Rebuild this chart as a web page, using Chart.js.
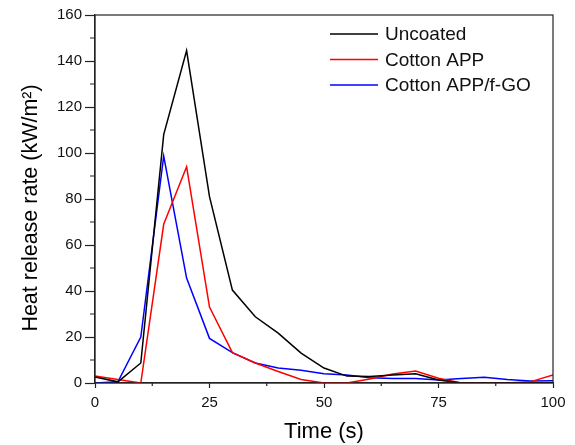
<!DOCTYPE html>
<html>
<head>
<meta charset="utf-8">
<script src="https://cdn.jsdelivr.net/npm/chart.js@4.4.1/dist/chart.umd.min.js"></script>
<style>
  body { margin: 0; background: #fff; }
  #wrap { width: 575px; height: 445px; position: relative; }
</style>
</head>
<body>
<div id="wrap"><canvas id="hrr"></canvas></div>
<script>
// time in seconds
var time = [0, 5, 10, 15, 20, 25, 30, 35, 40, 45, 50, 55, 60, 65, 70, 75, 80, 85, 90, 95, 100];
var uncoated   = [2.6, 0.5, 8.7, 108, 144.5, 81, 40.4, 28.8, 21.7, 13, 6.5, 3, 2.8, 3.5, 4, 1.3, 0, 0, 0, 0, 0];
var cottonApp  = [3, 1.5, 0, 69, 94, 33, 13.2, 8.7, 5, 1.5, 0, 0, 1.7, 3.9, 5.2, 2.1, 0, 0, 0, 0.5, 3.5];
var cottonAppGo = [0, 0.5, 20, 98.7, 45.6, 19.4, 13.2, 8.7, 6.5, 5.5, 4, 3.5, 2.3, 2, 2, 1.3, 2, 2.5, 1.5, 0.9, 1];
var xTicks = [0, 25, 50, 75, 100];
var yTicks = [0, 20, 40, 60, 80, 100, 120, 140, 160];

function pts(ys) {
    return time.map(function(t, i){ return {x: t, y: ys[i]}; });
}

// frame, minor ticks and the legend inside the plot
var extras = {
    id: 'extras',
    afterDraw: function(chart) {
        var c = chart.ctx, a = chart.chartArea;
        var xs = chart.scales.x, ys = chart.scales.y;
        c.save();
        c.strokeStyle = '#222';
        c.lineWidth = 1.2;
        c.strokeRect(a.left, a.top, a.right - a.left, a.bottom - a.top);
        c.beginPath();
        for (var v = 12.5; v < 100; v += 25) {
            var px = xs.getPixelForValue(v);
            c.moveTo(px, a.bottom); c.lineTo(px, a.bottom + 3);
        }
        for (var w = 10; w < 160; w += 20) {
            var py = ys.getPixelForValue(w);
            c.moveTo(a.left, py); c.lineTo(a.left - 5, py);
        }
        c.stroke();

        c.font = '19px "Liberation Sans", Arial, sans-serif';
        c.textBaseline = 'middle';
        c.fillStyle = '#111';
        chart.data.datasets.forEach(function(ds, i){
            var yy = 34 + i * 25.5;
            c.strokeStyle = ds.borderColor;
            c.lineWidth = 1.5;
            c.beginPath(); c.moveTo(330, yy); c.lineTo(378, yy); c.stroke();
            c.fillText(ds.label, 385, yy + 1);
        });
        c.restore();
    }
};

var ctx = document.getElementById("hrr").getContext('2d');
var myChart = new Chart(ctx, {
    type: 'line',
    data: {
        datasets: [{
            label: 'Uncoated',
            data: pts(uncoated),
            borderColor: '#000000',
            borderWidth: 1.5,
            pointRadius: 0,
            fill: false
        },
        {
            label: 'Cotton APP',
            data: pts(cottonApp),
            borderColor: '#ff0000',
            borderWidth: 1.5,
            pointRadius: 0,
            fill: false
        },
        {
            label: 'Cotton APP/f-GO',
            data: pts(cottonAppGo),
            borderColor: '#0000ff',
            borderWidth: 1.5,
            pointRadius: 0,
            fill: false
        }]
    },
    options: {
        responsive: true,
        maintainAspectRatio: false,
        animation: false,
        layout: { padding: { top: 15, right: 22, left: 18, bottom: 0 } },
        plugins: { legend: { display: false }, tooltip: { enabled: false } },
        scales: {
            x: {
                type: 'linear', min: 0, max: 100,
                afterBuildTicks: function(s){ s.ticks = xTicks.map(function(v){ return {value: v}; }); },
                afterFit: function(s){ s.height = 62; },
                grid: { drawOnChartArea: false, tickLength: 5, color: '#222', tickWidth: 1.2 },
                border: { color: '#222', width: 1.2 },
                ticks: { color: '#111', font: { size: 15, family: '"Liberation Sans", Arial' }, padding: 6, maxRotation: 0 },
                title: { display: true, text: 'Time (s)', color: '#000', font: { size: 22, family: '"Liberation Sans", Arial' }, padding: { top: 4, bottom: 0 } }
            },
            y: {
                min: 0, max: 160,
                afterBuildTicks: function(s){ s.ticks = yTicks.map(function(v){ return {value: v}; }); },
                afterFit: function(s){ s.width = 77; },
                grid: { drawOnChartArea: false, tickLength: 10, color: '#222', tickWidth: 1.2 },
                border: { color: '#222', width: 1.2 },
                ticks: { color: '#111', font: { size: 15, family: '"Liberation Sans", Arial' }, padding: 3 },
                title: { display: true, text: 'Heat release rate (kW/m\u00B2)   ', color: '#000', font: { size: 21.5, family: '"Liberation Sans", Arial' }, padding: { top: 0, bottom: 8 } }
            }
        }
    },
    plugins: [extras]
});
</script>
</body>
</html>
